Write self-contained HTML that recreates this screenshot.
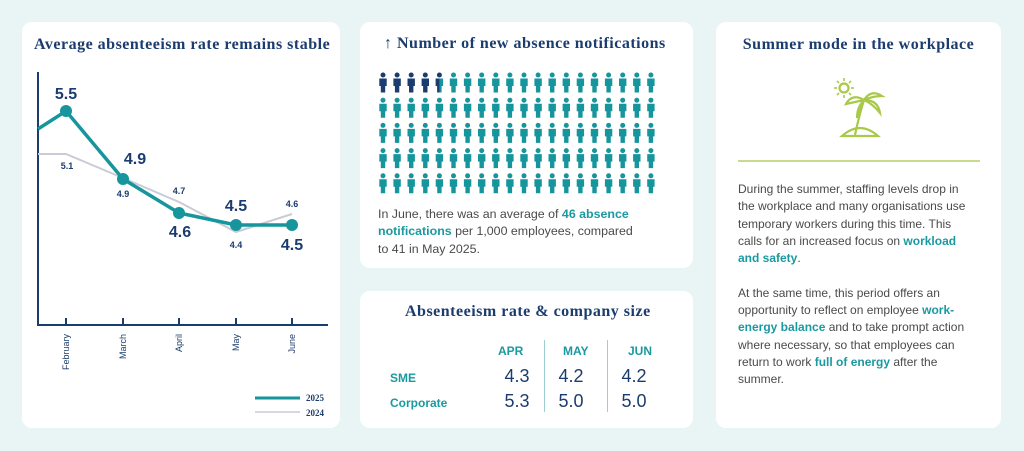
<!DOCTYPE html>
<html><head><meta charset="utf-8"><style>
body{margin:0;width:1024px;height:451px;background:#e9f5f5;position:relative;overflow:hidden;font-family:"Liberation Sans",sans-serif}
.card{position:absolute;background:#fff;border-radius:10px}
.t{position:absolute;font-family:"Liberation Serif",serif;font-weight:bold;color:#1b3c6e;white-space:nowrap;letter-spacing:0.5px}
.p{position:absolute;font-size:12.4px;line-height:17.3px;color:#4a4a4a}
.p b{color:#1a9aa0}
.c{position:absolute;font-size:12px;font-weight:bold;color:#1a9aa0}
.v{position:absolute;font-size:18px;color:#1b3c6e;transform:translateX(-50%)}
</style></head><body>
<div class="card" style="left:22px;top:22px;width:318px;height:406px"></div>
<div class="card" style="left:360px;top:22px;width:333px;height:246px"></div>
<div class="card" style="left:360px;top:291px;width:333px;height:137px"></div>
<div class="card" style="left:716px;top:22px;width:285px;height:406px"></div>

<div class="t" style="left:34px;top:36px;font-size:16px">Average absenteeism rate remains stable</div>
<svg style="position:absolute;left:0;top:0" width="340" height="430" font-family="Liberation Sans" font-weight="bold" fill="#1b3c6e">
<line x1="38" y1="72" x2="38" y2="325" stroke="#1b3c6e" stroke-width="2"/>
<line x1="37" y1="325" x2="328" y2="325" stroke="#1b3c6e" stroke-width="2"/>
<g stroke="#1b3c6e" stroke-width="2"><line x1="66" y1="318" x2="66" y2="325"/><line x1="123" y1="318" x2="123" y2="325"/><line x1="179" y1="318" x2="179" y2="325"/><line x1="236" y1="318" x2="236" y2="325"/><line x1="292" y1="318" x2="292" y2="325"/></g>
<polyline points="38,154 66,154 123,178 179,202 236,232 292,214" fill="none" stroke="#c9ccd6" stroke-width="2"/>
<polyline points="38,129 66,111 123,179 179,213 236,225 292,225" fill="none" stroke="#16959c" stroke-width="3.5"/>
<g fill="#16959c"><circle cx="66" cy="111" r="6"/><circle cx="123" cy="179" r="6"/><circle cx="179" cy="213" r="6"/><circle cx="236" cy="225" r="6"/><circle cx="292" cy="225" r="6"/></g>
<g font-size="16" text-anchor="middle"><text x="66" y="99">5.5</text><text x="135" y="164">4.9</text><text x="180" y="237">4.6</text><text x="236" y="211">4.5</text><text x="292" y="250">4.5</text></g>
<g font-size="9" text-anchor="middle"><text x="67" y="169">5.1</text><text x="123" y="197">4.9</text><text x="179" y="194">4.7</text><text x="236" y="248">4.4</text><text x="292" y="207">4.6</text></g>
<g font-size="9" font-weight="normal" text-anchor="end"><text transform="translate(69,334) rotate(-90)">February</text><text transform="translate(126,334) rotate(-90)">March</text><text transform="translate(182,334) rotate(-90)">April</text><text transform="translate(239,334) rotate(-90)">May</text><text transform="translate(295,334) rotate(-90)">June</text></g>
<line x1="255" y1="398" x2="300" y2="398" stroke="#16959c" stroke-width="3"/>
<line x1="255" y1="412" x2="300" y2="412" stroke="#c9ccd6" stroke-width="1.5"/>
<g font-size="9" font-family="Liberation Serif"><text x="306" y="401">2025</text><text x="306" y="416">2024</text></g>
</svg>

<div class="t" style="left:384px;top:35px;font-size:16px">↑ Number of new absence notifications</div>
<div style="position:absolute;left:376px;top:70px" id="pic"></div>
<script>
var s='<svg width="290" height="125" xmlns="http://www.w3.org/2000/svg">';
for(var r=0;r<5;r++)for(var c=0;c<20;c++){var x=c*14.1,y=r*25.2;var col=(r==0&&c<4)?'#1b3c6e':'#16959c';
var body='<circle cx="'+(x+7)+'" cy="'+(y+5)+'" r="2.5" fill="'+col+'"/><path d="M'+(x+3.3)+','+(y+8.5)+' h7.4 v7.5 h-1.5 v6.5 h-4.4 v-6.5 h-1.5z" fill="'+col+'"/>';
if(r==0&&c==4)body='<circle cx="'+(x+7)+'" cy="'+(y+5)+'" r="2.5" fill="#1b3c6e"/><path d="M'+(x+3.3)+','+(y+8.5)+' h7.4 v7.5 h-1.5 v6.5 h-4.4 v-6.5 h-1.5z" fill="#16959c"/><path d="M'+(x+3.3)+','+(y+8.5)+' h3.7 v14 h-2.2 v-6.5 h-1.5z" fill="#1b3c6e"/>';
s+=body;}
document.getElementById('pic').innerHTML=s+'</svg>';
</script>
<div class="p" style="left:378px;top:206px;width:268px">In June, there was an average of <b>46 absence notifications</b> per 1,000 employees, compared to 41 in May 2025.</div>

<div class="t" style="left:405px;top:303px;font-size:16px">Absenteeism rate &amp; company size</div>
<div class="c" style="left:498px;top:344px">APR</div>
<div class="c" style="left:563px;top:344px">MAY</div>
<div class="c" style="left:628px;top:344px">JUN</div>
<div style="position:absolute;left:544px;top:340px;width:1px;height:72px;background:#9ccfd2"></div>
<div style="position:absolute;left:607px;top:340px;width:1px;height:72px;background:#9ccfd2"></div>
<div class="c" style="left:390px;top:371px">SME</div>
<div class="c" style="left:390px;top:396px">Corporate</div>
<div class="v" style="left:517px;top:366px">4.3</div><div class="v" style="left:571px;top:366px">4.2</div><div class="v" style="left:634px;top:366px">4.2</div>
<div class="v" style="left:517px;top:391px">5.3</div><div class="v" style="left:571px;top:391px">5.0</div><div class="v" style="left:634px;top:391px">5.0</div>

<div class="t" style="left:716px;width:285px;text-align:center;top:36px;font-size:16px">Summer mode in the workplace</div>
<svg style="position:absolute;left:828px;top:76px" width="66" height="64" fill="none" stroke="#a9c94a" stroke-width="2.2">
<circle cx="16" cy="12" r="4.5"/><g stroke-width="1.6"><line x1="16" y1="2" x2="16" y2="5"/><line x1="16" y1="19" x2="16" y2="22"/><line x1="6" y1="12" x2="9" y2="12"/><line x1="23" y1="12" x2="26" y2="12"/><line x1="9" y1="5" x2="11" y2="7"/><line x1="21" y1="17" x2="23" y2="19"/><line x1="23" y1="5" x2="21" y2="7"/><line x1="9" y1="19" x2="11" y2="17"/></g>
<path d="M36,24 q-5,16 -9,35 M36,24 q-12,-7 -18,4 q9,-2 18,-4 M36,24 q7,-11 18,-4 q-9,0 -18,4 M36,24 q14,0 16,13 q-7,-9 -16,-13 M36,24 q-7,7 -7,18 q2,-11 7,-18"/>
<path d="M14,60 q18,-16 36,0 z"/>
</svg>
<div style="position:absolute;left:738px;top:160px;width:242px;height:2px;background:#c8da8e"></div>
<div class="p" style="left:738px;top:181px;width:240px;font-size:12px">During the summer, staffing levels drop in the workplace and many organisations use temporary workers during this time. This calls for an increased focus on <b>workload and safety</b>.<br><br>At the same time, this period offers an opportunity to reflect on employee <b>work-energy balance</b> and to take prompt action where necessary, so that employees can return to work <b>full of energy</b> after the summer.</div>
</body></html>
